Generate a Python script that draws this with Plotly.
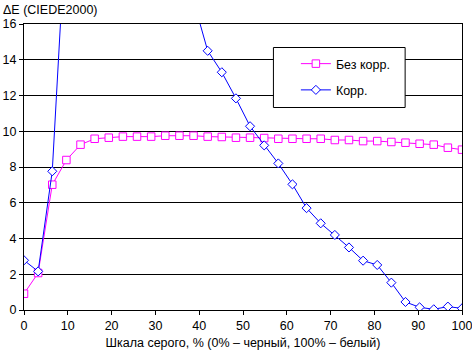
import plotly.graph_objects as go

n_points = 32
gray_pct = [i * 100 / (n_points - 1) for i in range(n_points)]

bez_korr = [0.91, 2.07, 7.01, 8.39, 9.25, 9.58, 9.64, 9.70, 9.70, 9.70,
            9.75, 9.75, 9.75, 9.70, 9.68, 9.64, 9.64, 9.62, 9.58, 9.58,
            9.58, 9.58, 9.51, 9.51, 9.45, 9.45, 9.40, 9.36, 9.30, 9.25,
            9.08, 8.97]

korr = [2.78, 2.16, 7.76, 22.0, 28.0, 32.0, 34.0, 35.0, 34.0, 31.0,
        27.0, 22.0, 17.3, 14.5, 13.3, 11.84, 10.28, 9.21, 8.2, 7.03,
        5.7, 4.85, 4.2, 3.5, 2.76, 2.52, 1.53, 0.45, 0.15, 0.04,
        0.19, 0.09]

x_ticks = [0, 10, 20, 30, 40, 50, 60, 70, 80, 90, 100]
y_ticks = [0, 2, 4, 6, 8, 10, 12, 14, 16]

FONT = "Arial, Liberation Sans, sans-serif"

fig = go.Figure()
fig.add_trace(go.Scatter(
    x=gray_pct, y=bez_korr, name="Без корр.", mode="lines+markers",
    legendgroup="a",
    line=dict(color="#FF00FF", width=1),
    marker=dict(symbol="square", size=7.5, color="white",
                line=dict(color="#FF00FF", width=1)),
))
fig.add_trace(go.Scatter(
    x=gray_pct, y=korr, name="Корр.", mode="lines+markers",
    legendgroup="b",
    line=dict(color="#0000FF", width=1),
    marker=dict(symbol="diamond", size=7, color="white",
                line=dict(color="#0000FF", width=1)),
))

L, R, T, B = 23.5, 9.5, 24, 43
W, H = 472, 353
pw, ph = W - L - R, H - T - B

def px_x(p):
    return (p - L) / pw

def px_y(p):
    return (H - B - p) / ph

fig.update_layout(
    width=W, height=H,
    margin=dict(l=L, r=R, t=T, b=B, pad=0, autoexpand=False),
    paper_bgcolor="white", plot_bgcolor="white",
    font=dict(family=FONT, size=12.5, color="black"),
    showlegend=True,
    legend=dict(
        x=px_x(296), y=px_y(49), xanchor="left", yanchor="top",
        bgcolor="rgba(0,0,0,0)", borderwidth=0,
        traceorder="grouped", tracegroupgap=7,
        font=dict(family=FONT, size=12.5, color="black"),
    ),
    xaxis=dict(
        range=[0, 100], tickvals=x_ticks, ticktext=[str(v) for v in x_ticks],
        showgrid=False, zeroline=False, automargin=False,
        ticklabeloverflow="allow",
        showline=True, linecolor="black", linewidth=1, mirror=True,
        ticks="outside", ticklen=4, tickcolor="black", tickwidth=1,
        title=dict(text="Шкала серого, % (0% – черный, 100% – белый)",
                   font=dict(size=12.5), standoff=6),
    ),
    yaxis=dict(
        range=[0, 16], tickvals=y_ticks, ticktext=[str(v) for v in y_ticks],
        showgrid=True, gridcolor="black", gridwidth=1, zeroline=False,
        automargin=False, ticklabeloverflow="allow",
        showline=True, linecolor="black", linewidth=1, mirror=True,
        ticks="outside", ticklen=4, tickcolor="black", tickwidth=1,
    ),
    shapes=[dict(
        type="rect", xref="paper", yref="paper",
        x0=px_x(273.5), x1=px_x(405.5), y0=px_y(107.5), y1=px_y(47.5),
        line=dict(color="black", width=1), fillcolor="white", layer="above",
    )],
    annotations=[dict(
        text="ΔE (CIEDE2000)", xref="paper", yref="paper",
        x=px_x(0), y=px_y(10), xanchor="left", yanchor="middle",
        showarrow=False, font=dict(size=12.5),
    )],
)

fig.write_html("out.html")
